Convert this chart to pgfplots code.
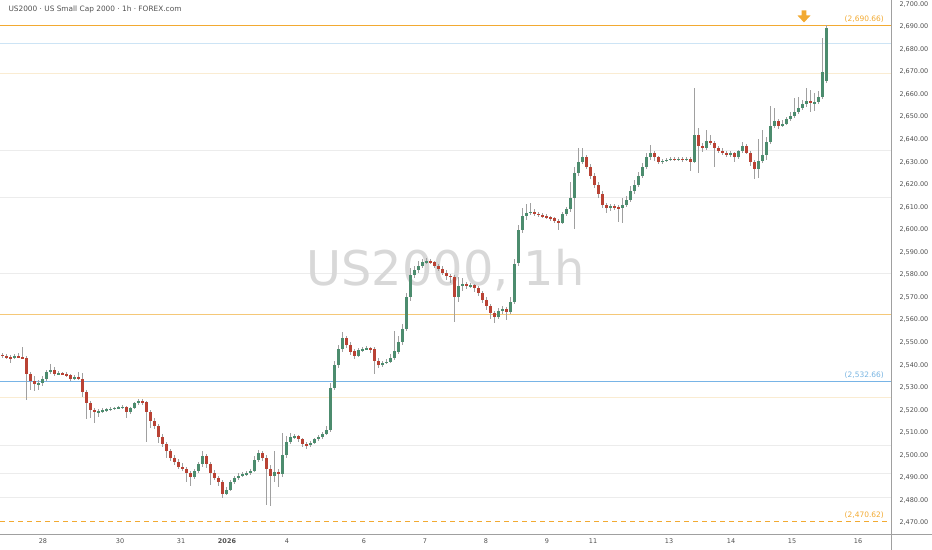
\documentclass[border=0pt]{standalone}
\usepackage{fontspec}
\setmainfont{DejaVu Sans}
\usepackage{pgfplots}
\usepackage{pgfplotstable}
\pgfplotsset{compat=1.18}

\definecolor{candleup}{RGB}{76,140,110}
\definecolor{candledown}{RGB}{185,66,52}
\definecolor{wickgray}{RGB}{160,160,160}
\definecolor{hiorange}{RGB}{242,170,50}
\definecolor{midorange}{RGB}{245,200,120}
\definecolor{supblue}{RGB}{120,180,230}
\definecolor{supbluetext}{RGB}{120,180,225}
\definecolor{paleblue}{RGB}{205,228,245}
\definecolor{palecream}{RGB}{250,236,210}
\definecolor{palegray}{RGB}{236,236,236}
\definecolor{wmgray}{RGB}{216,216,216}
\definecolor{axisgray}{RGB}{160,160,160}
\definecolor{labgray}{RGB}{80,80,80}

\pgfdeclareplotmark{dnarrow}{%
  \pgfpathmoveto{\pgfpoint{-2.4bp}{6bp}}%
  \pgfpathlineto{\pgfpoint{2.4bp}{6bp}}%
  \pgfpathlineto{\pgfpoint{2.4bp}{1bp}}%
  \pgfpathlineto{\pgfpoint{6.5bp}{1bp}}%
  \pgfpathlineto{\pgfpoint{0bp}{-6bp}}%
  \pgfpathlineto{\pgfpoint{-6.5bp}{1bp}}%
  \pgfpathlineto{\pgfpoint{-2.4bp}{1bp}}%
  \pgfpathclose\pgfusepathqfill}

% hourly-ish candles: open high low close
\pgfplotstableread{
o h l c
2544.5 2545.5 2543.2 2544
2544 2544.8 2542.6 2543.5
2543.5 2544.6 2541 2543
2543 2545 2542.5 2544
2544 2545.2 2543 2543.5
2543.5 2548 2542.5 2543
2543 2544 2524.5 2536
2536 2537 2529 2533
2533 2535 2528.5 2531.5
2531.5 2533.5 2529 2532
2532 2535 2530.5 2534
2534 2538 2533 2537
2537 2540.5 2536 2538
2538 2539 2535 2536
2536 2537.5 2535.5 2536.5
2536.5 2537 2535.5 2536
2536 2537 2534.8 2535.5
2535.5 2536 2533 2534
2534 2535.5 2533.2 2534.5
2534.5 2537 2533.5 2534
2534 2536.5 2526 2528
2528 2529 2516 2523
2523 2524 2516.5 2520
2520 2521 2514.5 2519
2519 2520.5 2517 2519.5
2519.5 2520.8 2518.8 2520
2520 2521 2519.3 2520.2
2520.2 2521.2 2519.5 2520.5
2520.5 2521.5 2520 2521
2521 2521.8 2520.3 2521
2521 2522.5 2520.6 2521.5
2521.5 2522 2516.5 2519
2519 2521.5 2518.5 2521
2521 2523.5 2520.5 2523
2523 2525 2522.2 2524
2524 2524.8 2522.5 2523.5
2523.5 2524 2506 2519
2519 2520 2512 2515
2515 2516.5 2511.5 2513
2513 2514 2505.5 2508
2508 2509.5 2503.5 2505
2505 2506 2499 2502
2502 2503 2497.5 2499
2499 2500 2495.5 2497
2497 2498.5 2494 2495
2495 2496.5 2493.2 2494
2494 2495 2488 2492
2492 2493 2486.5 2490.5
2490.5 2494 2489.5 2493
2493 2497 2492.2 2496
2496 2502 2495 2499.5
2499.5 2500.5 2494.5 2496
2496 2497 2487 2492
2492 2493.5 2489 2490
2490 2491 2486.5 2488
2488 2489 2481 2483
2483 2486 2482.5 2484.5
2484.5 2489 2484 2488
2488 2491 2487.2 2490
2490 2492 2489.2 2491
2491 2492.5 2490.3 2491.5
2491.5 2493 2490.8 2492
2492 2494 2491.3 2493
2493 2499.5 2492.5 2498
2498 2502.5 2497 2501
2501 2502 2497.5 2499
2499 2500 2478 2494
2494 2495.5 2477.5 2491
2491 2502 2488 2492.5
2492.5 2494 2486 2491.5
2491.5 2510 2490.5 2500
2500 2508.5 2499 2506
2506 2510 2505 2508
2508 2509.5 2507.2 2508.5
2508.5 2509.2 2505.8 2507
2507 2507.8 2503.5 2505
2505 2506 2503 2504.5
2504.5 2506.5 2503.8 2505.5
2505.5 2507.5 2505 2507
2507 2508.8 2506.2 2508
2508 2510.5 2507.3 2509.5
2509.5 2513 2508.8 2511
2511 2532 2510.5 2530
2530 2542 2529 2540
2540 2549 2538.5 2547
2547 2554.7 2546 2552
2552 2553 2547.5 2549
2549 2550 2544.5 2546
2546 2547 2542.8 2544
2544 2547.5 2543.5 2546.5
2546.5 2548 2545.8 2547
2547 2548.5 2546.5 2547.5
2547.5 2548 2545.5 2547
2547 2547.8 2536 2542
2542 2543 2538.5 2540
2540 2542 2539.2 2541
2541 2542.5 2540.3 2541.5
2541.5 2545 2540.8 2543
2543 2555 2542.2 2546
2546 2553 2545 2550
2550 2558 2549 2556
2556 2572 2555 2570
2570 2583 2568.5 2580
2580 2584 2578.5 2582
2582 2586 2581 2584
2584 2587 2583.2 2585.5
2585.5 2587.3 2584.8 2586
2586 2586.8 2584.6 2585.5
2585.5 2586.2 2583 2584
2584 2585 2581.5 2582.5
2582.5 2583.8 2580 2581
2581 2582.2 2577.5 2579.5
2579.5 2580.5 2576.5 2579
2579 2580 2559 2570
2570 2579 2568 2575
2575 2578.5 2573 2576
2576 2577 2573.5 2575
2575 2576.5 2574 2575.5
2575.5 2576 2572.5 2574
2574 2575 2570.5 2572
2572 2573 2567.5 2569
2569 2570 2564.5 2566
2566 2567 2560.5 2563
2563 2564 2558.5 2561.5
2561.5 2565.5 2560.5 2564
2564 2566 2562.5 2565
2565 2565.8 2560 2563.5
2563.5 2570 2562.5 2568
2568 2587 2567 2585
2585 2602 2584 2600
2600 2609.5 2598.5 2606
2606 2611.5 2604.5 2607.5
2607.5 2612 2606.5 2608
2608 2609 2606 2607
2607 2608 2605.8 2606.5
2606.5 2607.5 2605.2 2606
2606 2607 2604.8 2605.5
2605.5 2606.2 2604 2605
2605 2605.8 2603 2604
2604 2604.8 2600 2603
2603 2608 2602.5 2607
2607 2610 2606 2609
2609 2621 2608 2614
2614 2628 2600.5 2625
2625 2636 2624 2630
2630 2636 2629 2632
2632 2633 2627 2628
2628 2629 2622.5 2624
2624 2625 2618.5 2620
2620 2621 2614 2616
2616 2617 2609.5 2611
2611 2612 2607.5 2609.5
2609.5 2611.5 2608.5 2610.5
2610.5 2611.3 2608.8 2610
2610 2610.8 2603.5 2609.5
2609.5 2614 2603 2611
2611 2615 2610 2613
2613 2619.5 2612.2 2617
2617 2622 2616 2620
2620 2625.5 2619 2624
2624 2629.5 2623 2628
2628 2634 2627 2632
2632 2637.5 2631 2634
2634 2635 2630.5 2632
2632 2632.8 2629.2 2630
2630 2631.5 2629.3 2630.5
2630.5 2631.8 2629.8 2631
2631 2632.3 2630.4 2631.5
2631.5 2632.2 2630.3 2631
2631 2632 2630.5 2631.5
2631.5 2632 2630.2 2631
2631 2632.2 2630.3 2631.5
2631.5 2632 2626 2630
2630 2663 2629.5 2642
2642 2645 2625 2637
2637 2638.5 2634.5 2636
2636 2644 2635.5 2639.5
2639.5 2642 2637.5 2638.5
2638.5 2639.5 2628 2636
2636 2637 2633.8 2635
2635 2636 2633 2634
2634 2634.8 2632 2633
2633 2635 2632.3 2634
2634 2634.6 2630 2632
2632 2635.5 2631.5 2635
2635 2639 2634.2 2637
2637 2638 2633.5 2634
2634 2635 2628 2630
2630 2631 2622.5 2627
2627 2640 2623 2630.5
2630.5 2644 2629.5 2633
2633 2641 2631 2639
2639 2655 2638 2646
2646 2654 2645 2648
2648 2649 2644.5 2646
2646 2648.5 2645.5 2647
2647 2650 2646.3 2649
2649 2652 2648 2650.5
2650.5 2658.5 2649.5 2652
2652 2659 2651.2 2654
2654 2657.5 2653 2655.5
2655.5 2662.8 2654.5 2657
2657 2662 2652 2656
2656 2660.5 2652.5 2656.5
2656.5 2661.5 2655.5 2659
2659 2685 2658 2670
2666 2690.66 2665 2689.2
}\data
\pgfplotstablecreatecol[expr={4*\pgfplotstablerow+2}]{x}{\data}

\begin{document}
\begin{tikzpicture}
\useasboundingbox (0,0) rectangle (932bp,550bp);
\begin{axis}[
  name=ax,
  at={(0bp,16bp)}, anchor=south west,
  scale only axis, width=891bp, height=534bp,
  xmin=0, xmax=891, ymin=2465.1, ymax=2701.8,
  axis x line*=bottom, axis y line*=right,
  x axis line style={-}, y axis line style={-},
  axis line style={draw=axisgray, line width=0.6bp},
  major tick length=0pt,
  xtick={43,120,181,227,287,364,425,486,547,593,669,731,792,858},
  xticklabels={28,30,31,\textbf{2026},4,6,7,8,9,11,13,14,15,16},
  ytick={2470,2480,...,2700},
  scaled y ticks=false,
  tick label style={font=\fontsize{6.5}{7}\selectfont, text=labgray},
  yticklabel style={anchor=west, xshift=5bp,
    /pgf/number format/fixed, /pgf/number format/fixed zerofill,
    /pgf/number format/precision=2, /pgf/number format/1000 sep={,},
    /pgf/number format/assume math mode=true},
  xticklabel style={yshift=-1bp},
]
% level lines
\addplot[draw=hiorange, line width=1.2bp, mark=none] coordinates {(0,2690.66) (891,2690.66)};
\addplot[draw=supblue, line width=1.2bp, mark=none] coordinates {(0,2532.66) (891,2532.66)};
\addplot[draw=hiorange, line width=1.2bp, dash pattern=on 5bp off 4bp, mark=none] coordinates {(0,2470.62) (891,2470.62)};
\addplot[draw=midorange, line width=0.9bp, mark=none] coordinates {(0,2562.6) (891,2562.6)};
\addplot[draw=paleblue, line width=0.9bp, mark=none] coordinates {(0,2682.7) (891,2682.7)};
\addplot[draw=palecream, line width=0.9bp, mark=none] coordinates {(0,2669.4) (891,2669.4)};
\addplot[draw=palecream, line width=0.9bp, mark=none] coordinates {(0,2525.8) (891,2525.8)};
\addplot[draw=palegray, line width=0.6bp, mark=none] coordinates {(0,2635.3) (891,2635.3)};
\addplot[draw=palegray, line width=0.6bp, mark=none] coordinates {(0,2614.5) (891,2614.5)};
\addplot[draw=palegray, line width=0.6bp, mark=none] coordinates {(0,2580.8) (891,2580.8)};
\addplot[draw=palegray, line width=0.6bp, mark=none] coordinates {(0,2504.6) (891,2504.6)};
\addplot[draw=palegray, line width=0.6bp, mark=none] coordinates {(0,2492.2) (891,2492.2)};
\addplot[draw=palegray, line width=0.6bp, mark=none] coordinates {(0,2481.5) (891,2481.5)};

% watermark
\node[font=\fontsize{48}{50}\selectfont, text=wmgray] at (rel axis cs:0.5,0.494) {US2000, 1h};

% wicks
\addplot[draw=none, mark=none, error bars/.cd, y dir=both, y explicit, error mark=none,
  error bar style={draw=wickgray, line width=0.6bp}]
  table[x=x, y expr=(\thisrow{h}+\thisrow{l})/2, y error expr=(\thisrow{h}-\thisrow{l})/2] {\data};
% up bodies
\addplot[draw=none, mark=none, restrict expr to domain={\thisrow{c}-\thisrow{o}}{0:1000},
  error bars/.cd, y dir=both, y explicit, error mark=none,
  error bar style={draw=candleup, line width=3bp}]
  table[x=x, y expr=(\thisrow{o}+\thisrow{c})/2, y error expr={max(abs(\thisrow{c}-\thisrow{o})/2,0.3)}] {\data};
% down bodies
\addplot[draw=none, mark=none, restrict expr to domain={\thisrow{c}-\thisrow{o}}{-1000:-0.001},
  error bars/.cd, y dir=both, y explicit, error mark=none,
  error bar style={draw=candledown, line width=3bp}]
  table[x=x, y expr=(\thisrow{o}+\thisrow{c})/2, y error expr={max(abs(\thisrow{c}-\thisrow{o})/2,0.3)}] {\data};

% high marker
\addplot[only marks, mark=dnarrow, mark options={fill=hiorange, draw=none}] coordinates {(804,2694.5)};

% level labels
\node[anchor=south east, text=hiorange, font=\fontsize{7.5}{8}\selectfont, inner sep=1bp] at (axis cs:885,2691.5) {(2,690.66)};
\node[anchor=south east, text=supbluetext, font=\fontsize{7.5}{8}\selectfont, inner sep=1bp] at (axis cs:885,2533.5) {(2,532.66)};
\node[anchor=south east, text=hiorange, font=\fontsize{7.5}{8}\selectfont, inner sep=1bp] at (axis cs:885,2471.5) {(2,470.62)};

% title
\node[anchor=west, xshift=5bp, yshift=-9bp, text=labgray, font=\fontsize{7.4}{8}\selectfont] at (rel axis cs:0,1) {US2000 · US Small Cap 2000 · 1h · FOREX.com};
\end{axis}
\draw[axisgray, line width=0.6bp] (ax.south east) -- ++(41bp,0);
\draw[axisgray, line width=0.6bp] (ax.south east) -- ++(0,-16bp);
\end{tikzpicture}
\end{document}
